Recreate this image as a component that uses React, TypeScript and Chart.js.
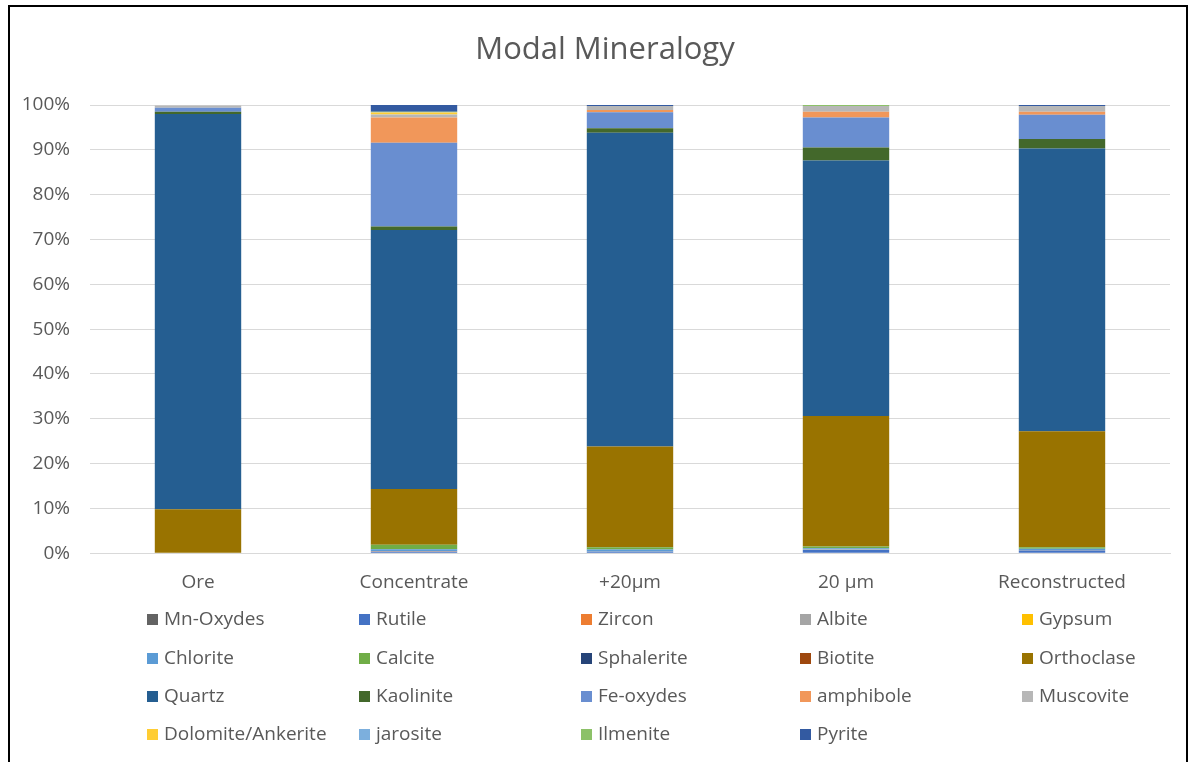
import React, { useEffect, useRef } from "react";
import { Chart, registerables } from "chart.js";

Chart.register(...registerables);

const categories = ["Ore", "Concentrate", "+20µm", "20 µm", "Reconstructed"];
const yTicks = [0, 10, 20, 30, 40, 50, 60, 70, 80, 90, 100];
const titleText = "Modal Mineralogy";

const mnOxydes = [0, 0.1, 0.1, 0.1, 0.1];
const rutile = [0, 0.2, 0.2, 0.6, 0.5];
const zircon = [0, 0.1, 0, 0, 0];
const albite = [0, 0.1, 0.1, 0.1, 0.1];
const gypsum = [0, 0, 0, 0, 0];
const chlorite = [0, 0.4, 0.4, 0.3, 0.3];
const calcite = [0, 1.0, 0.5, 0.4, 0.3];
const sphalerite = [0, 0, 0, 0, 0];
const biotite = [0, 0, 0, 0, 0];
const orthoclase = [9.8, 12.4, 22.5, 29.1, 25.9];
const quartz = [88.2, 57.8, 70.0, 57.0, 63.1];
const kaolinite = [0.5, 0.8, 1.0, 2.9, 2.1];
const feOxydes = [0.9, 18.7, 3.6, 6.7, 5.4];
const amphibole = [0, 5.6, 0.5, 1.3, 0.7];
const muscovite = [0.5, 0.7, 0.9, 1.3, 1.3];
const dolomiteAnkerite = [0, 0.4, 0, 0, 0];
const jarosite = [0, 0.1, 0, 0, 0];
const ilmenite = [0, 0.1, 0, 0.2, 0];
const pyrite = [0, 1.5, 0.2, 0, 0.2];

const seriesNames = [
  "Mn-Oxydes", "Rutile", "Zircon", "Albite", "Gypsum",
  "Chlorite", "Calcite", "Sphalerite", "Biotite", "Orthoclase",
  "Quartz", "Kaolinite", "Fe-oxydes", "amphibole", "Muscovite",
  "Dolomite/Ankerite", "jarosite", "Ilmenite", "Pyrite",
];
const seriesValues = [
  mnOxydes, rutile, zircon, albite, gypsum,
  chlorite, calcite, sphalerite, biotite, orthoclase,
  quartz, kaolinite, feOxydes, amphibole, muscovite,
  dolomiteAnkerite, jarosite, ilmenite, pyrite,
];
const seriesColors = [
  "#636363", "#4472C4", "#ED7D31", "#A5A5A5", "#FFC000",
  "#5B9BD5", "#70AD47", "#264478", "#9E480E", "#997300",
  "#255E91", "#43682B", "#698ED0", "#F1975A", "#B7B7B7",
  "#FFCD33", "#7CAFDD", "#8CC168", "#335AA1",
];

const FONT = "'Open Sans', 'DejaVu Sans', sans-serif";
const TEXT = "#595959";

const titleAndLegend = {
  id: "titleAndLegend",
  afterDraw(chart: any) {
    const ctx = chart.ctx;
    const ds = chart.data.datasets;
    ctx.save();
    // title
    ctx.font = `31px ${FONT}`;
    ctx.fillStyle = TEXT;
    ctx.textAlign = "center";
    ctx.textBaseline = "middle";
    ctx.fillText(titleText, 605, 50);
    // legend grid
    const cols = 5;
    const colX = [147, 359, 581, 800, 1022];
    const rowY = [619, 658, 696, 734];
    ctx.font = `19px ${FONT}`;
    ctx.textAlign = "left";
    ds.forEach((d: any, i: number) => {
      const c = i % cols;
      const r = Math.floor(i / cols);
      const x = colX[c];
      const y = rowY[r];
      ctx.fillStyle = d.backgroundColor;
      ctx.fillRect(x, y - 5, 11, 11);
      ctx.fillStyle = TEXT;
      ctx.fillText(d.label, x + 17, y + 1);
    });
    ctx.restore();
  },
};

export default function App() {
  const ref = useRef<HTMLCanvasElement | null>(null);
  useEffect(() => {
    if (!ref.current) return;
    const chart = new Chart(ref.current, {
      type: "bar",
      data: {
        labels: categories,
        datasets: seriesNames.map((name, i) => ({
          label: name,
          data: seriesValues[i],
          backgroundColor: seriesColors[i],
          borderWidth: 0,
          categoryPercentage: 1,
          barPercentage: 0.4,
        })),
      },
      options: {
        animation: false,
        responsive: true,
        maintainAspectRatio: false,
        layout: { padding: { left: 18, right: 27, top: 105, bottom: 150 } },
        plugins: {
          legend: { display: false },
          tooltip: { enabled: false },
          title: { display: false },
        },
        scales: {
          x: {
            stacked: true,
            grid: { display: false, drawTicks: false },
            border: { display: true, color: "#D9D9D9", width: 1 },
            ticks: {
              color: TEXT,
              font: { family: FONT, size: 19 },
              padding: 18,
              maxRotation: 0,
            },
          },
          y: {
            stacked: true,
            min: 0,
            max: 100,
            afterBuildTicks(scale: any) {
              scale.ticks = yTicks.map((v) => ({ value: v }));
            },
            afterFit(scale: any) {
              scale.width = 72;
            },
            grid: { color: "#D9D9D9", lineWidth: 1, drawTicks: false },
            border: { display: false },
            ticks: {
              color: TEXT,
              font: { family: FONT, size: 19 },
              padding: 20,
              callback: (v: any) => `${v}%`,
            },
          },
        },
      },
      plugins: [titleAndLegend],
    });
    return () => chart.destroy();
  }, []);

  return (
    <div style={{ position: "fixed", left: 0, top: 0, width: 1197, height: 762, background: "#fff" }}>
      <div
        style={{
          position: "absolute",
          left: 8,
          top: 5,
          width: 1180,
          height: 800,
          border: "2px solid #000",
          boxSizing: "border-box",
        }}
      />
      <div style={{ position: "absolute", left: 0, top: 0, width: 1197, height: 762 }}>
        <canvas ref={ref} />
      </div>
    </div>
  );
}
